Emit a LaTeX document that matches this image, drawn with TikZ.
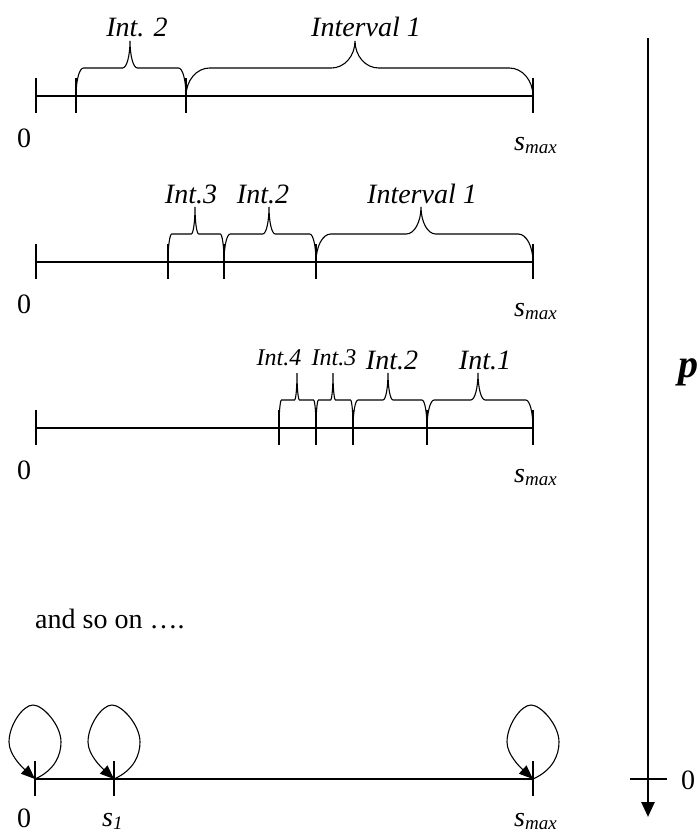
\documentclass[tikz,border=0pt]{standalone}
\usepackage{fontspec}
\setmainfont{Liberation Serif}
\usetikzlibrary{arrows.meta}
\tikzset{
  axisline/.style={line width=1.1pt},
  bracestyle/.style={line width=1.1pt},
  tickline/.style={line width=1.1pt},
  lab/.style={font=\fontsize{28}{30}\selectfont\itshape, inner sep=0pt, anchor=base},
  labsmall/.style={font=\fontsize{24}{26}\selectfont\itshape, inner sep=0pt, anchor=base},
  numlab/.style={font=\fontsize{28}{30}\selectfont, inner sep=0pt, anchor=base},
  smaxlab/.style={font=\fontsize{28}{30}\selectfont\itshape, inner sep=0pt, anchor=base west},
  looparrow/.style={line width=1.1pt, -{Triangle[length=14pt,width=11pt]}},
  selfloop/.pic={\draw[looparrow] (0,0) .. controls (20,-9) and (26,-24) .. (26,-37)
      .. controls (26,-54) and (8,-74) .. (-2,-74)
      .. controls (-12,-74) and (-26,-54) .. (-26,-37)
      .. controls (-26,-24) and (-12,-11) .. (0,0);}
}
\newcommand\ibrace[4]{%
  \pgfmathsetmacro\brx{0.068*(#2-#1)}%
  \pgfmathsetmacro\byt{#4-28}%
  \pgfmathsetmacro\byp{#4-55}%
  \draw[bracestyle] (#1,#4) .. controls (#1,#4-15.5) and (#1+0.448*\brx,\byt) .. (#1+\brx,\byt)
    -- (#3-\brx,\byt) .. controls (#3-0.448*\brx,\byt) and (#3,\byp+15) .. (#3,\byp)
    .. controls (#3,\byp+15) and (#3+0.448*\brx,\byt) .. (#3+\brx,\byt)
    -- (#2-\brx,\byt) .. controls (#2-0.448*\brx,\byt) and (#2,#4-15.5) .. (#2,#4);}
\newcommand\itick[2]{\draw[tickline] (#1,#2-18) -- (#1,#2+17);}
\newcommand\smaxtext{s\textsubscript{\fontsize{19}{20}\selectfont max}}
\begin{document}
\begin{tikzpicture}[x=1pt,y=-1pt]
\useasboundingbox (0,0) rectangle (698,836);
% ---------- row 1 ----------
\coordinate (r1a) at (36,96); \coordinate (r1b) at (533,96);
\draw[axisline] (r1a) -- (r1b);
\foreach \xx in {36,76,186,533} {\itick{\xx}{96}}
\ibrace{76}{186}{130}{96}
\ibrace{186}{533}{355}{96}
\node[lab] (r1l2) at (137,36) {Int. 2};
\node[lab] (r1l1) at (366,36) {Interval 1};
\node[numlab] (r1z) at (24,147) {0};
\node[smaxlab] (r1s) at (514,150) {\smaxtext};
% ---------- row 2 ----------
\coordinate (r2a) at (36,262); \coordinate (r2b) at (533,262);
\draw[axisline] (r2a) -- (r2b);
\foreach \xx in {36,168,224,316,533} {\itick{\xx}{262}}
\ibrace{168}{224}{195}{262}
\ibrace{224}{316}{269}{262}
\ibrace{316}{533}{421}{262}
\node[lab] (r2l3) at (191,203) {Int.3};
\node[lab] (r2l2) at (263,203) {Int.2};
\node[lab] (r2l1) at (422,203) {Interval 1};
\node[numlab] (r2z) at (24,313) {0};
\node[smaxlab] (r2s) at (514,316) {\smaxtext};
% ---------- row 3 ----------
\coordinate (r3a) at (36,428); \coordinate (r3b) at (533,428);
\draw[axisline] (r3a) -- (r3b);
\foreach \xx in {36,279,316,353,427,533} {\itick{\xx}{428}}
\ibrace{279}{316}{297}{428}
\ibrace{316}{353}{333}{428}
\ibrace{353}{427}{388}{428}
\ibrace{427}{533}{478}{428}
\node[labsmall] (r3l4) at (279,365) {Int.4};
\node[labsmall] (r3l3) at (334,365) {Int.3};
\node[lab] (r3l2) at (392,369) {Int.2};
\node[lab] (r3l1) at (485,369) {Int.1};
\node[numlab] (r3z) at (24,479) {0};
\node[smaxlab] (r3s) at (514,482) {\smaxtext};
% ---------- and so on ----------
\node[font=\fontsize{28}{30}\selectfont, inner sep=0pt, anchor=base west] (etc) at (35,628) {and so on ….};
% ---------- bottom row ----------
\coordinate (b0) at (35,779); \coordinate (b1) at (114,779); \coordinate (b2) at (533,779);
\draw[axisline] (b0) -- (b2);
\foreach \xx in {35,114,533} {\itick{\xx}{779}}
\pic at (b0) {selfloop};
\pic at (b1) {selfloop};
\pic at (b2) {selfloop};
\node[numlab] (bz) at (24,827) {0};
\node[smaxlab] (bs1) at (102,826) {s\textsubscript{\fontsize{19}{20}\selectfont 1}};
\node[smaxlab] (bs2) at (514,826) {\smaxtext};
% ---------- p axis ----------
\coordinate (ptop) at (648,38); \coordinate (pbot) at (648,817);
\draw[line width=2.6pt, -{Triangle[length=15pt,width=13pt]}] (ptop) -- (pbot);
\coordinate (pt1) at (630,779); \coordinate (pt2) at (667,779);
\draw[tickline] (pt1) -- (pt2);
\node[numlab] (pz) at (688,789) {0};
\node[font=\fontsize{40}{40}\selectfont\bfseries\itshape, inner sep=0pt, anchor=base west] (p) at (678,377) {p};
\end{tikzpicture}
\end{document}
